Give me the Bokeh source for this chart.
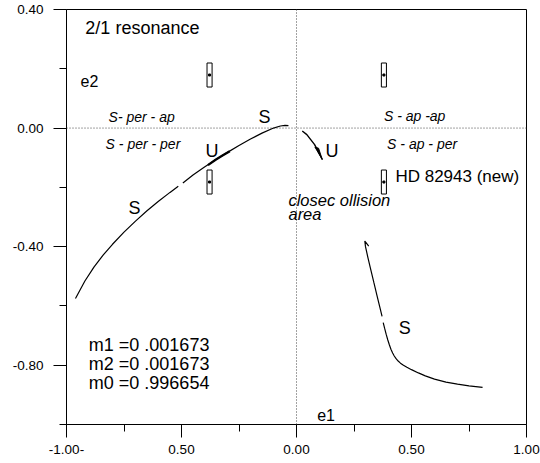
from bokeh.plotting import figure
from bokeh.models import Range1d, FixedTicker, CustomJSTickFormatter, Span
from bokeh.core.properties import value
from bokeh.embed import file_html
from bokeh.resources import INLINE

FONT = "Liberation Sans"

# ---- data ----
x_ticks = [-1.0, -0.5, 0.0, 0.5, 1.0]
x_tick_labels = ["-1.00-", "0.50", "0.00", "0.50", "1.00"]
x_minor = [-0.75, -0.25, 0.25, 0.75]
y_ticks = [0.4, 0.0, -0.4, -0.8]
y_tick_labels = ["0.40", "0.00", "-0.40", "-0.80"]
y_minor = [0.2, -0.2, -0.6, -1.0]

# left family (stable branch, broken near e1=-0.5)
left_a_x = [-0.961, -0.92, -0.88, -0.84, -0.80, -0.75, -0.70, -0.65, -0.60, -0.55, -0.514]
left_a_y = [-0.575, -0.516, -0.468, -0.428, -0.392, -0.351, -0.314, -0.279, -0.247, -0.217, -0.196]
left_b_x = [-0.494, -0.45, -0.40, -0.35, -0.30, -0.25, -0.20, -0.15, -0.10, -0.07, -0.05, -0.035]
left_b_y = [-0.185, -0.158, -0.131, -0.106, -0.082, -0.059, -0.037, -0.017, 0.000, 0.007, 0.009, 0.008]
# unstable (thicker) piece near U
left_u_x = [-0.385, -0.35, -0.32, -0.29]
left_u_y = [-0.125, -0.106, -0.092, -0.078]

# small unstable arrow near origin
arrow_x = [0.025, 0.045, 0.061, 0.078, 0.090, 0.112]
arrow_y = [-0.010, -0.022, -0.038, -0.055, -0.072, -0.106]
arrow_head_x = [0.080, 0.112, 0.096]
arrow_head_y = [-0.064, -0.106, -0.068]

# right family
right_a_x = [0.314, 0.297, 0.300, 0.310, 0.320, 0.336, 0.350, 0.362, 0.372]
right_a_y = [-0.398, -0.381, -0.400, -0.435, -0.468, -0.520, -0.565, -0.603, -0.635]
right_b_x = [0.377, 0.383, 0.390, 0.397, 0.404, 0.411, 0.418, 0.425, 0.433, 0.442,
             0.452, 0.465, 0.48, 0.50, 0.53, 0.56, 0.60, 0.65, 0.70, 0.75, 0.809]
right_b_y = [-0.656, -0.675, -0.696, -0.715, -0.732, -0.747, -0.759, -0.769, -0.778, -0.786,
             -0.793, -0.800, -0.807, -0.815, -0.826, -0.836, -0.847, -0.857, -0.864, -0.870, -0.875]

# HD 82943 error boxes
box_x = [-0.378, -0.378, 0.380, 0.380]
box_y = [0.179, -0.182, 0.179, -0.182]
box_w = 0.022
box_h = 0.081

# labels
big_txt = ["2/1 resonance", "S", "U", "S", "U", "HD 82943 (new)", "S",
           "m1 =0 .001673", "m2 =0 .001673", "m0 =0 .996654"]
big_x = [-0.918, -0.165, -0.396, -0.73, 0.126, 0.43, 0.445,
         -0.903, -0.903, -0.903]
big_y = [0.338, 0.037, -0.078, -0.27, -0.078, -0.162, -0.675,
         -0.731, -0.795, -0.860]
big_size = ["18px", "18px", "18px", "18px", "18px", "17px", "18px",
            "18px", "18px", "18px"]
axis_txt = ["e2", "e1"]
axis_x = [-0.939, 0.09]
axis_y = [0.159, -0.967]
ital_txt = ["S- per - ap", "S - per - per", "S - ap -ap", "S - ap - per",
            "closec ollision", "area"]
ital_x = [-0.817, -0.83, 0.38, 0.394, -0.035, -0.035]
ital_y = [0.037, -0.054, 0.04, -0.055, -0.243, -0.29]
ital_size = ["14px", "14px", "14px", "14px", "16.5px", "16.5px"]

# ---- figure ----
p = figure(width=540, height=463, output_backend="svg", toolbar_location=None,
           x_range=Range1d(-1.0, 1.0), y_range=Range1d(-1.0, 0.4),
           min_border_left=66, min_border_right=14, min_border_top=9,
           min_border_bottom=39)
p.background_fill_color = "white"
p.border_fill_color = "white"
p.outline_line_color = "black"
p.outline_line_width = 1
p.xgrid.visible = False
p.ygrid.visible = False

fmt_code = ("const i = t.findIndex(v => Math.abs(v - tick) < 1e-9);"
            "return i >= 0 ? l[i] : '';")
p.xaxis.ticker = FixedTicker(ticks=x_ticks, minor_ticks=x_minor)
p.xaxis.formatter = CustomJSTickFormatter(args=dict(t=x_ticks, l=x_tick_labels), code=fmt_code)
p.yaxis.ticker = FixedTicker(ticks=y_ticks, minor_ticks=y_minor)
p.yaxis.formatter = CustomJSTickFormatter(args=dict(t=y_ticks, l=y_tick_labels), code=fmt_code)
for ax in (p.xaxis, p.yaxis):
    ax.major_tick_in = 0
    ax.minor_tick_in = 0
    ax.major_tick_out = 13
    ax.minor_tick_out = 7
    ax.axis_line_color = "black"
    ax.major_tick_line_color = "black"
    ax.minor_tick_line_color = "black"
    ax.major_label_text_font = FONT
    ax.major_label_text_font_size = "13.5px"
    ax.major_label_text_color = "black"
p.xaxis.major_label_standoff = 7
p.yaxis.major_label_standoff = 10

p.add_layout(Span(location=0, dimension="width", line_color="#444444",
                  line_dash="1 2", line_width=1))
p.add_layout(Span(location=0, dimension="height", line_color="#444444",
                  line_dash="1 2", line_width=1))

lc = "black"
p.line(left_a_x, left_a_y, line_color=lc, line_width=1.2)
p.line(left_b_x, left_b_y, line_color=lc, line_width=1.2)
p.line(left_u_x, left_u_y, line_color=lc, line_width=2.3)
p.line(arrow_x, arrow_y, line_color=lc, line_width=1.4)
p.patch(arrow_head_x, arrow_head_y, fill_color=lc, line_color=lc, line_width=1)
p.line(right_a_x, right_a_y, line_color=lc, line_width=1.2)
p.line(right_b_x, right_b_y, line_color=lc, line_width=1.2)

p.rect(box_x, box_y, width=box_w, height=box_h, fill_color=None,
       line_color=lc, line_width=1)
p.scatter(box_x, box_y, size=2, marker="square", color=lc)

p.text(big_x, big_y, text=big_txt, text_font=value(FONT), text_font_size=big_size,
       text_baseline="middle", text_align="left", text_color="black")
p.text(axis_x, axis_y, text=axis_txt, text_font=value(FONT), text_font_size="16px",
       text_baseline="middle", text_align="left", text_color="black")
p.text(ital_x, ital_y, text=ital_txt, text_font=value(FONT), text_font_size=ital_size,
       text_font_style="italic", text_baseline="middle", text_align="left",
       text_color="black")

open("out.html", "w").write(file_html(p, INLINE))
